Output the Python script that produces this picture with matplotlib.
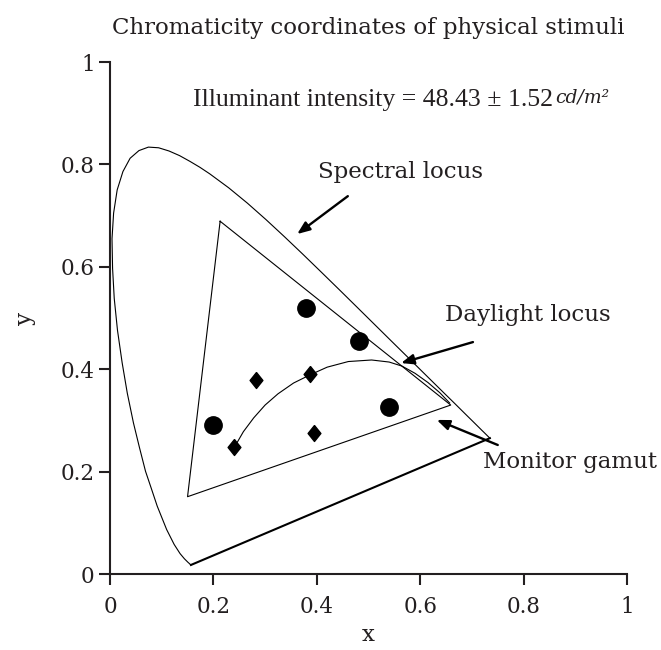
import matplotlib
matplotlib.use('Agg')
from matplotlib import pyplot as plt
import numpy as np

plt.rcParams['font.family'] = ['DejaVu Serif']

# spectral locus (CIE 1931), 450 nm -> 700 nm, extra points
locus_x = [0.1566, 0.1510, 0.1440, 0.1355, 0.1241, 0.1096, 0.0913, 0.0803, 0.0687, 0.0570,
           0.0454, 0.0335, 0.0235, 0.0145, 0.0082, 0.0050, 0.0039, 0.0070, 0.0139, 0.0250,
           0.0389, 0.0560, 0.0743, 0.0940, 0.1142, 0.1345, 0.1547, 0.1740, 0.1929, 0.2296,
           0.2658, 0.3016, 0.3373, 0.3731, 0.4087, 0.4441, 0.4788, 0.5125, 0.5448, 0.5752,
           0.6029, 0.6270, 0.6482, 0.6658, 0.6801, 0.6915, 0.7006, 0.7079, 0.7140, 0.7190,
           0.7230, 0.7260, 0.7283, 0.7300, 0.7311, 0.7320, 0.7327, 0.7334, 0.7347]
locus_y = [0.0177, 0.0227, 0.0297, 0.0399, 0.0578, 0.0868, 0.1327, 0.1660, 0.2007, 0.2470,
           0.2950, 0.3530, 0.4127, 0.4760, 0.5384, 0.5970, 0.6548, 0.7050, 0.7502, 0.7860,
           0.8120, 0.8270, 0.8338, 0.8325, 0.8262, 0.8172, 0.8059, 0.7943, 0.7816, 0.7543,
           0.7243, 0.6923, 0.6589, 0.6245, 0.5896, 0.5547, 0.5202, 0.4866, 0.4544, 0.4242,
           0.3965, 0.3725, 0.3514, 0.3340, 0.3197, 0.3083, 0.2993, 0.2920, 0.2859, 0.2809,
           0.2770, 0.2740, 0.2717, 0.2700, 0.2689, 0.2680, 0.2673, 0.2666, 0.2653]

# monitor gamut (G, B, R)
gamut_x = [0.213, 0.150, 0.659]
gamut_y = [0.689, 0.151, 0.330]

# daylight locus
day_x = [0.242, 0.258, 0.278, 0.300, 0.325, 0.355, 0.387, 0.420, 0.461, 0.506,
         0.540, 0.565, 0.590, 0.615, 0.638, 0.657]
day_y = [0.250, 0.278, 0.305, 0.330, 0.352, 0.373, 0.389, 0.404, 0.415, 0.418,
         0.414, 0.406, 0.392, 0.374, 0.354, 0.334]

# stimuli
circle_x = [0.200, 0.380, 0.481, 0.540]
circle_y = [0.291, 0.519, 0.455, 0.327]
diamond_x = [0.239, 0.282, 0.387, 0.395]
diamond_y = [0.249, 0.379, 0.390, 0.275]

txt = '#231f20'

fig = plt.figure(figsize=(6.61, 6.5), dpi=100)
ax = fig.add_axes([0.1664, 0.1169, 0.7822, 0.7877])

ax.plot(locus_x, locus_y, color='k', lw=0.8)
ax.plot([locus_x[0], locus_x[-1]], [locus_y[0], locus_y[-1]], color='k', lw=1.5)
ax.plot(gamut_x + gamut_x[:1], gamut_y + gamut_y[:1], color='k', lw=0.8)
ax.plot(day_x, day_y, color='k', lw=0.8)

ax.plot(circle_x, circle_y, 'o', color='k', ms=12.5)
diamond = [(0, 1), (0.8, 0), (0, -1), (-0.8, 0), (0, 1)]
ax.plot(diamond_x, diamond_y, linestyle='none', marker=diamond, color='k', ms=11.5)

arrow = dict(arrowstyle='-|>,head_length=0.75,head_width=0.3', lw=1.7, color='k',
             shrinkA=0, shrinkB=0)
ax.annotate('', xy=(0.362, 0.664), xytext=(0.460, 0.738), arrowprops=arrow)
ax.annotate('', xy=(0.563, 0.412), xytext=(0.702, 0.453), arrowprops=arrow)
ax.annotate('', xy=(0.632, 0.301), xytext=(0.750, 0.252), arrowprops=arrow)

fs = 16.5
ax.text(0.561, 0.785, 'Spectral locus', fontsize=fs, ha='center', va='center', color=txt)
ax.text(0.809, 0.506, 'Daylight locus', fontsize=fs, ha='center', va='center', color=txt)
ax.text(0.890, 0.219, 'Monitor gamut', fontsize=fs, ha='center', va='center', color=txt,
        clip_on=False)

t = ax.text(0.161, 0.926, 'Illuminant intensity = 48.43 ± 1.52', fontsize=18.5,
            family='Liberation Serif', ha='left', va='center', color=txt)
ax.annotate('cd/m²', xy=(1.005, 0.6), xycoords=t, fontsize=13.5, style='italic',
            ha='left', va='center', color=txt, annotation_clip=False)

ax.set_xlim(0, 1)
ax.set_ylim(0, 1)
ax.set_xticks([0, 0.2, 0.4, 0.6, 0.8, 1])
ax.set_xticklabels(['0', '0.2', '0.4', '0.6', '0.8', '1'])
ax.set_yticks([0, 0.2, 0.4, 0.6, 0.8, 1])
ax.set_yticklabels(['0', '0.2', '0.4', '0.6', '0.8', '1'])
ax.tick_params(direction='out', length=8, width=1.5, labelsize=15.5, colors=txt)
ax.tick_params(axis='x', pad=8)
ax.tick_params(axis='y', pad=3)
for s in ['top', 'right']:
    ax.spines[s].set_visible(False)
for s in ['left', 'bottom']:
    ax.spines[s].set_linewidth(1.5)
    ax.spines[s].set_color(txt)

ax.set_xlabel('x', fontsize=fs, color=txt, labelpad=4)
ax.set_ylabel('y', fontsize=fs, color=txt, labelpad=18)
ax.set_title('Chromaticity coordinates of physical stimuli', fontsize=fs, color=txt, pad=20)

fig.savefig('out.png', dpi=100)
